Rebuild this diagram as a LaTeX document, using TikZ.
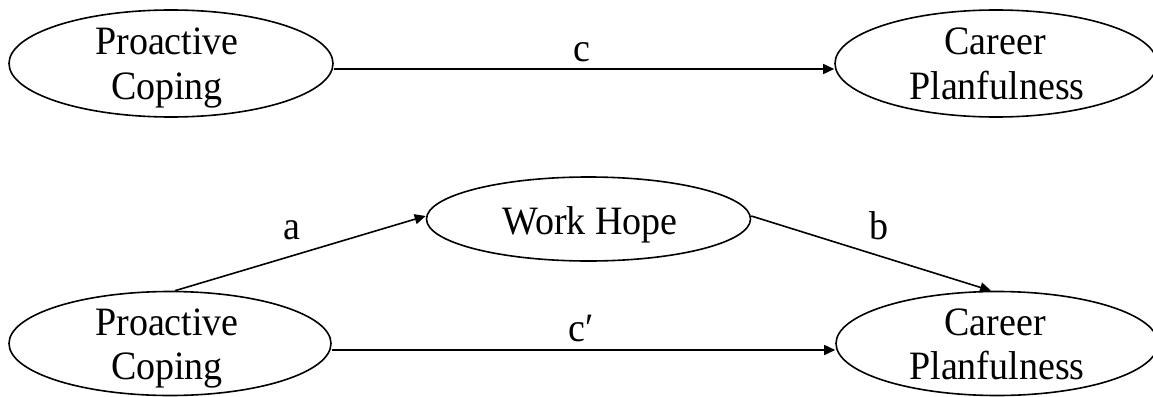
\documentclass[tikz,border=0pt]{standalone}
\usepackage{fontspec}
\setmainfont{Liberation Serif}
\usetikzlibrary{arrows.meta,shapes.geometric}
\newcommand{\tall}[1]{\scalebox{1}[1.06]{#1}}
\begin{document}
\begin{tikzpicture}[x=1pt,y=-1pt,
  ell/.style={draw,line width=1.6pt,ellipse,inner sep=0pt},
  txt/.style={anchor=base,inner sep=0pt,font=\fontsize{38}{44}\selectfont},
  lbl/.style={anchor=base,inner sep=0pt,font=\fontsize{38}{44}\selectfont},
  arr/.style={line width=1.6pt,-{Triangle[length=11pt,width=10pt]}}]
\useasboundingbox (0,0) rectangle (1153,396);
% top row
\node[ell,minimum width=324pt,minimum height=107pt] (pcA) at (171,63.5) {};
\node[txt] (pcA1) at (167,55) {\tall{Proactive}};
\node[txt] (pcA2) at (167,99.5) {\tall{Coping}};
\node[ell,minimum width=322pt,minimum height=107pt] (cpA) at (996,63.5) {};
\node[txt] (cpA1) at (995,55) {\tall{Career}};
\node[txt] (cpA2) at (997,99.5) {\tall{Planfulness}};
\draw[arr] ([yshift=-5.5pt]pcA.east) -- ([yshift=-5.5pt]cpA.west);
\node[lbl] (lc) at (582,62) {\tall{c}};
% bottom row
\node[ell,minimum width=324pt,minimum height=84pt] (wh) at (588.5,219) {};
\node[txt] (wh1) at (590,234.5) {\tall{Work Hope}};
\node[ell,minimum width=322pt,minimum height=104pt] (pcB) at (170,343.5) {};
\node[txt] (pcB1) at (167,335) {\tall{Proactive}};
\node[txt] (pcB2) at (167,379.5) {\tall{Coping}};
\node[ell,minimum width=322pt,minimum height=104pt] (cpB) at (997,343.5) {};
\node[txt] (cpB1) at (995,335) {\tall{Career}};
\node[txt] (cpB2) at (997,379.5) {\tall{Planfulness}};
\draw[arr] ([xshift=5pt]pcB.north) -- ([yshift=3pt]wh.west);
\draw[arr] ([yshift=3pt]wh.east) -- ([xshift=-6pt]cpB.north);
\draw[arr] ([yshift=-6.5pt]pcB.east) -- ([yshift=-6.5pt]cpB.west);
\node[lbl] (la) at (292,239) {\tall{a}};
\node[lbl] (lb) at (879,239) {\tall{b}};
\node[lbl] (lcp) at (581,341) {\tall{c′}};
\end{tikzpicture}
\end{document}
